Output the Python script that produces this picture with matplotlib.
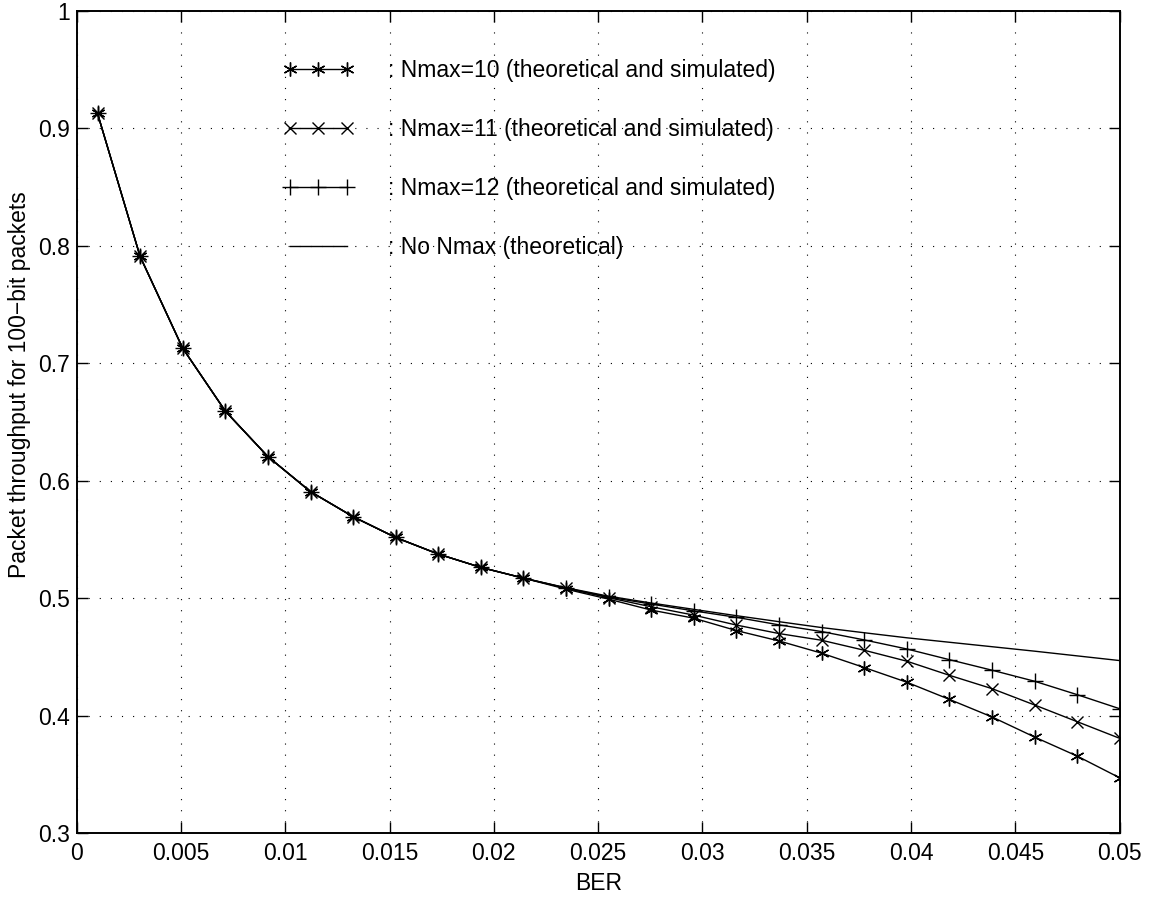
import matplotlib
matplotlib.use('Agg')
import matplotlib.pyplot as plt

plt.rcParams['font.family'] = ['Liberation Sans', 'DejaVu Sans']

# BER sample points
ber = [0.001, 0.00304, 0.00508, 0.00713, 0.00917, 0.01121, 0.01325, 0.01529,
       0.01733, 0.01938, 0.02142, 0.02346, 0.0255, 0.02754, 0.02958, 0.03163,
       0.03367, 0.03571, 0.03775, 0.03979, 0.04183, 0.04388, 0.04592, 0.04796,
       0.05]

# packet throughput, theoretical and simulated
nmax10 = [0.9128, 0.7911, 0.7130, 0.6593, 0.6206, 0.5908, 0.5695, 0.5518,
          0.5377, 0.5263, 0.5172, 0.5078, 0.4993, 0.4900, 0.4831, 0.4725,
          0.4637, 0.4533, 0.4411, 0.4286, 0.4140, 0.3990, 0.3819, 0.3657,
          0.3472]
nmax11 = [0.9128, 0.7911, 0.7130, 0.6593, 0.6206, 0.5908, 0.5695, 0.5518,
          0.5377, 0.5263, 0.5172, 0.5085, 0.5005, 0.4928, 0.4857, 0.4772,
          0.4700, 0.4643, 0.4558, 0.4465, 0.4345, 0.4231, 0.4092, 0.3950,
          0.3808]
nmax12 = [0.9128, 0.7911, 0.7130, 0.6593, 0.6206, 0.5908, 0.5695, 0.5518,
          0.5377, 0.5263, 0.5172, 0.5088, 0.5010, 0.4951, 0.4893, 0.4838,
          0.4774, 0.4717, 0.4646, 0.4569, 0.4478, 0.4388, 0.4294, 0.4180,
          0.4060]
no_nmax = [0.9128, 0.7911, 0.7130, 0.6593, 0.6206, 0.5908, 0.5695, 0.5518,
           0.5377, 0.5263, 0.5172, 0.5090, 0.5018, 0.4960, 0.4906, 0.4852,
           0.4801, 0.4751, 0.4707, 0.4664, 0.4626, 0.4588, 0.4550, 0.4510,
           0.4470]

xticks = [0, 0.005, 0.01, 0.015, 0.02, 0.025, 0.03, 0.035, 0.04, 0.045, 0.05]
xticklabels = ['0', '0.005', '0.01', '0.015', '0.02', '0.025', '0.03',
               '0.035', '0.04', '0.045', '0.05']
yticks = [0.3, 0.4, 0.5, 0.6, 0.7, 0.8, 0.9, 1.0]
yticklabels = ['0.3', '0.4', '0.5', '0.6', '0.7', '0.8', '0.9', '1']

fs = 16.5

fig = plt.figure(figsize=(11.51, 8.98), dpi=100)
ax = fig.add_axes([0.0666, 0.0721, 0.9062, 0.9157])

asterisk = (6, 2, 0)
ax.plot(ber, nmax10, color='k', lw=1.0, marker=asterisk, ms=10, mew=1.0,
        label=': Nmax=10 (theoretical and simulated)')
ax.plot(ber, nmax11, color='k', lw=1.0, marker='x', ms=8, mew=1.0,
        label=': Nmax=11 (theoretical and simulated)')
ax.plot(ber, nmax12, color='k', lw=1.0, marker='+', ms=11, mew=1.0,
        label=': Nmax=12 (theoretical and simulated)')
ax.plot(ber, no_nmax, color='k', lw=1.0,
        label=': No Nmax (theoretical)')

ax.set_xlim(0, 0.05)
ax.set_ylim(0.3, 1.0)
ax.set_xticks(xticks)
ax.set_xticklabels(xticklabels)
ax.set_yticks(yticks)
ax.set_yticklabels(yticklabels)

ax.grid(True, color='k', linestyle=(0, (1, 9)), linewidth=0.8)
ax.tick_params(direction='in', length=8, width=1.0, labelsize=fs,
               top=True, right=True)
ax.tick_params(axis='x', pad=6.5)
ax.tick_params(axis='y', pad=4.8)
for sp in ax.spines.values():
    sp.set_linewidth(1.4)

ax.set_xlabel('BER', fontsize=fs)
ax.set_ylabel('Packet throughput for 100\u2212bit packets', fontsize=fs)
ax.xaxis.set_label_coords(0.5, -0.047)
ax.yaxis.set_label_coords(-0.0438, 0.546)

ax.legend(loc='upper left', bbox_to_anchor=(0.178, 0.967), frameon=False,
          fontsize=fs, numpoints=3, handlelength=3.1, handletextpad=1.48,
          labelspacing=1.57)

fig.savefig('out.png', dpi=100)
